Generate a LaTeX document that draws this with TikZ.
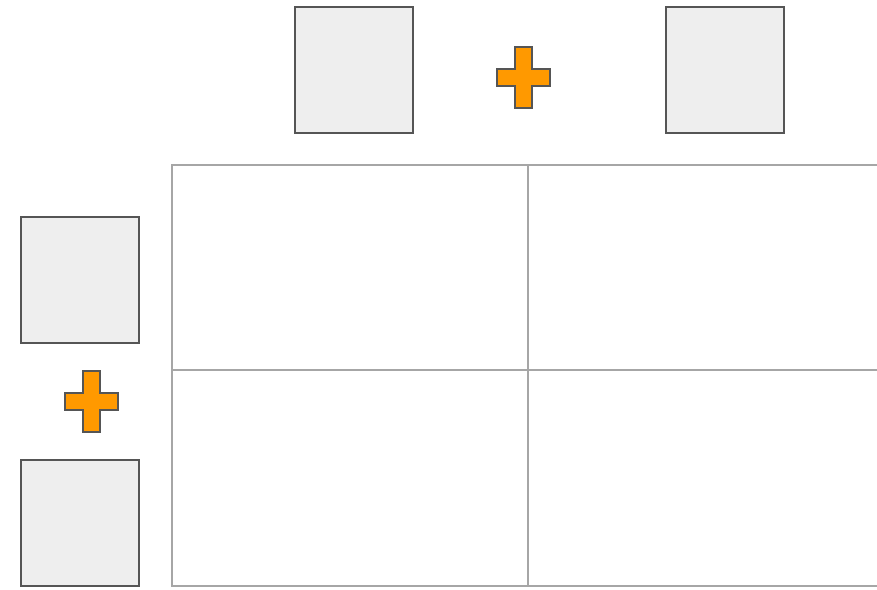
\documentclass[tikz,border=0pt]{standalone}
\usetikzlibrary{positioning}
\definecolor{boxfill}{HTML}{EEEEEE}
\definecolor{boxline}{HTML}{555555}
\definecolor{gridline}{HTML}{A6A6A6}
\definecolor{plusfill}{HTML}{FF9900}
\begin{document}
\begin{tikzpicture}[x=1pt,y=-1pt,
  card/.style={draw=boxline,fill=boxfill,line width=2pt,minimum width=118pt,minimum height=126pt,inner sep=0pt,outer sep=0pt},
  gridstyle/.style={draw=gridline,line width=2pt},
  plusstyle/.style={draw=boxline,fill=plusfill,line width=2pt,line join=miter}]
\useasboundingbox (0,0) rectangle (877,589);
% cards
\node[card] (t1) at (353.5,70) {};
\node[card] (t2) at (724.5,70) {};
\node[card] (l1) at (79.5,280) {};
\node[card] (l2) at (79.5,523) {};
% grid
\coordinate (g00) at (172,165);
\coordinate (g10) at (528,165);
\coordinate (g20) at (877,165);
\coordinate (g01) at (172,370);
\coordinate (g21) at (877,370);
\coordinate (g02) at (172,586);
\coordinate (g12) at (528,586);
\coordinate (g22) at (877,586);
\draw[gridstyle] (g20) -- (g00) -- (g02) -- (g22);
\draw[gridstyle] (g01) -- (g21);
\draw[gridstyle] (g10) -- (g12);
% plus signs
\newcommand{\plusat}[2]{%
  \draw[plusstyle] (#1,#2) ++(-8.5,-30.5) -- ++(17,0) -- ++(0,22) -- ++(18,0) -- ++(0,17) -- ++(-18,0) -- ++(0,22) -- ++(-17,0) -- ++(0,-22) -- ++(-18,0) -- ++(0,-17) -- ++(18,0) -- cycle;}
\plusat{523.5}{77.5}
\plusat{91}{401.5}
\end{tikzpicture}
\end{document}
